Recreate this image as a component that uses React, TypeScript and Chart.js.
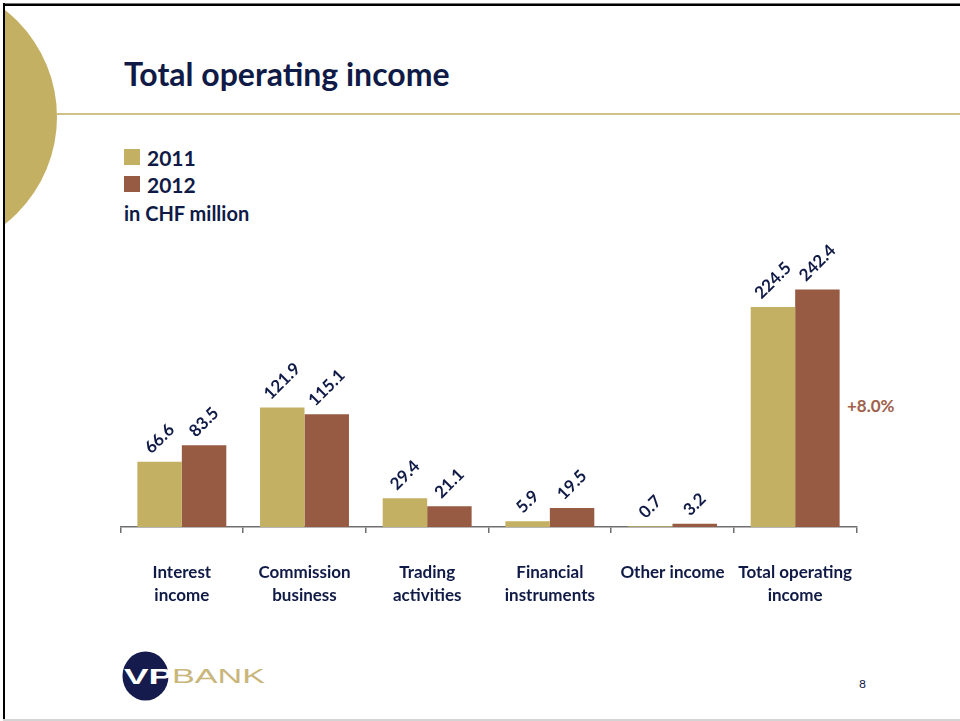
import React, { useEffect, useRef } from "react";
import { Chart, registerables } from "chart.js";

Chart.register(...registerables);

const categories: string[][] = [
  ["Interest", "income"],
  ["Commission", "business"],
  ["Trading", "activities"],
  ["Financial", "instruments"],
  ["Other income"],
  ["Total operating", "income"],
];
const seriesNames = ["2011", "2012"];
const values2011 = [66.6, 121.9, 29.4, 5.9, 0.7, 224.5];
const values2012 = [83.5, 115.1, 21.1, 19.5, 3.2, 242.4];
const titleText = "Total operating income";
const unitText = "in CHF million";
const changeText = "+8.0%";
const pageNumber = "8";

const GOLD = "#C3B063";
const BROWN = "#975A42";
const NAVY = "#101A46";
const FONT = "Lato, 'Open Sans', sans-serif";

const valueLabels = {
  id: "valueLabels",
  afterDatasetsDraw(chart: any) {
    const ctx = chart.ctx;
    ctx.save();
    ctx.font = `bold 17px ${FONT}`;
    ctx.fillStyle = NAVY;
    ctx.textAlign = "center";
    ctx.textBaseline = "middle";
    chart.data.datasets.forEach((ds: any, i: number) => {
      const meta = chart.getDatasetMeta(i);
      meta.data.forEach((bar: any, j: number) => {
        const txt = Number(ds.data[j]).toFixed(1);
        const w = ctx.measureText(txt).width;
        const off = 11 + (w / 2) * 0.7071;
        ctx.save();
        ctx.translate(bar.x, bar.y - off);
        ctx.rotate(-Math.PI / 4);
        ctx.fillText(txt, 0, 0);
        ctx.restore();
      });
    });
    ctx.restore();
  },
};

function Logo() {
  return (
    <svg
      width={300}
      height={80}
      style={{ position: "absolute", left: 0, top: 640 }}
    >
      <ellipse cx={145.5} cy={36} rx={23} ry={24.5} fill="#151B4C" />
      <text
        x={124}
        y={43.5}
        fill="#ffffff"
        fontFamily="'Liberation Sans', Arial, sans-serif"
        fontWeight="bold"
        fontSize={22}
        textLength={49}
        lengthAdjust="spacingAndGlyphs"
      >
        VP
      </text>
      <text
        x={172}
        y={42.5}
        fill="#C9B67B"
        fontFamily="'Liberation Sans', Arial, sans-serif"
        fontSize={20}
        textLength={93}
        lengthAdjust="spacingAndGlyphs"
      >
        BANK
      </text>
    </svg>
  );
}

export default function App() {
  const canvasRef = useRef<HTMLCanvasElement | null>(null);

  useEffect(() => {
    if (!canvasRef.current) return;
    const chart = new Chart(canvasRef.current, {
      type: "bar",
      data: {
        labels: categories,
        datasets: [
          {
            label: seriesNames[0],
            data: values2011,
            backgroundColor: GOLD,
            borderWidth: 0,
            categoryPercentage: 0.725,
            barPercentage: 1,
          },
          {
            label: seriesNames[1],
            data: values2012,
            backgroundColor: BROWN,
            borderWidth: 0,
            categoryPercentage: 0.725,
            barPercentage: 1,
          },
        ],
      },
      options: {
        responsive: false,
        animation: false,
        layout: { padding: { top: 282, left: 120.5, right: 103.5, bottom: 94 } },
        plugins: {
          legend: { display: false },
          tooltip: { enabled: false },
          title: { display: false },
        },
        scales: {
          x: {
            grid: {
              offset: true,
              drawOnChartArea: false,
              drawTicks: true,
              tickLength: 6,
              color: "#6f6f6f",
              lineWidth: 1.5,
            },
            border: { display: true, color: "#6f6f6f", width: 1.5 },
            ticks: {
              color: NAVY,
              font: { family: FONT, size: 17, weight: "bold", lineHeight: 1.35 },
              padding: 28,
              maxRotation: 0,
              minRotation: 0,
              autoSkip: false,
            },
            afterFit: (s: any) => {
              s.height = 100;
            },
          },
          y: {
            display: false,
            min: 0,
            max: 250,
          },
        },
      },
      plugins: [valueLabels],
    });
    return () => chart.destroy();
  }, []);

  return (
    <div
      style={{
        position: "absolute",
        left: 0,
        top: 0,
        width: 960,
        height: 721,
        overflow: "hidden",
        background: "#ffffff",
        fontFamily: FONT,
      }}
    >
      {/* decorative circle clipped by frame */}
      <div
        style={{
          position: "absolute",
          left: 5,
          top: 5,
          width: 955,
          height: 714,
          overflow: "hidden",
        }}
      >
        <div
          style={{
            position: "absolute",
            left: -220,
            top: -24,
            width: 272,
            height: 272,
            borderRadius: "50%",
            background: GOLD,
          }}
        />
      </div>
      {/* frame */}
      <div style={{ position: "absolute", left: 3, top: 3, width: 957, height: 1, background: "#777" }} />
      <div style={{ position: "absolute", left: 3, top: 4, width: 957, height: 2, background: "#000" }} />
      <div style={{ position: "absolute", left: 3, top: 3, width: 2, height: 717, background: "#000" }} />
      <div style={{ position: "absolute", left: 3, top: 719, width: 957, height: 2, background: "#d4d4d4" }} />
      {/* title */}
      <div
        style={{
          position: "absolute",
          left: 124,
          top: 57.5,
          fontSize: 32,
          lineHeight: "32px",
          fontWeight: 700,
          color: NAVY,
          whiteSpace: "nowrap",
        }}
      >
        {titleText}
      </div>
      <div style={{ position: "absolute", left: 57, top: 113, width: 903, height: 2, background: "#CFC188" }} />
      {/* legend */}
      <div style={{ position: "absolute", left: 124, top: 149, width: 16, height: 16, background: GOLD }} />
      <div
        style={{
          position: "absolute",
          left: 147,
          top: 146.5,
          fontSize: 21,
          lineHeight: "21px",
          fontWeight: 700,
          color: NAVY,
        }}
      >
        {seriesNames[0]}
      </div>
      <div style={{ position: "absolute", left: 124, top: 176, width: 16, height: 16, background: BROWN }} />
      <div
        style={{
          position: "absolute",
          left: 147,
          top: 173.5,
          fontSize: 21,
          lineHeight: "21px",
          fontWeight: 700,
          color: NAVY,
        }}
      >
        {seriesNames[1]}
      </div>
      <div
        style={{
          position: "absolute",
          left: 124,
          top: 203,
          fontSize: 20,
          lineHeight: "20px",
          fontWeight: 700,
          color: NAVY,
          whiteSpace: "nowrap",
        }}
      >
        {unitText}
      </div>
      {/* change */}
      <div
        style={{
          position: "absolute",
          left: 847,
          top: 397,
          fontSize: 17,
          lineHeight: "17px",
          fontWeight: 700,
          color: "#A0614A",
          whiteSpace: "nowrap",
        }}
      >
        {changeText}
      </div>
      <Logo />
      <div
        style={{
          position: "absolute",
          left: 859,
          top: 678,
          fontSize: 12,
          lineHeight: "12px",
          color: NAVY,
        }}
      >
        {pageNumber}
      </div>
      <canvas
        ref={canvasRef}
        width={960}
        height={721}
        style={{ position: "absolute", left: 0, top: 0, width: 960, height: 721 }}
      />
    </div>
  );
}
